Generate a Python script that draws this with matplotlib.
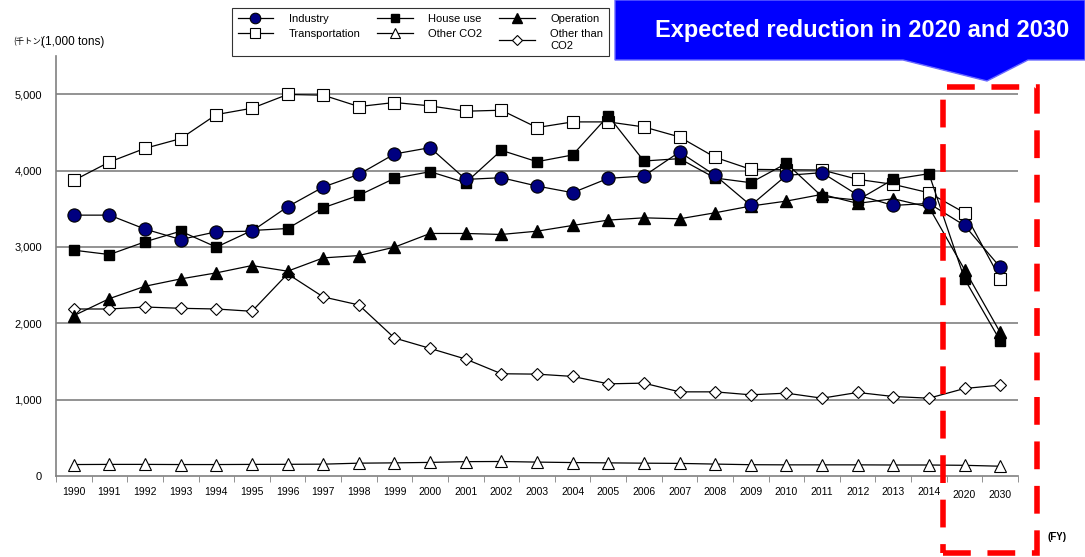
import matplotlib
matplotlib.use("Agg")
import matplotlib.pyplot as plt
from matplotlib.patches import Polygon, Rectangle
import numpy as np

plt.rcParams['font.family'] = ['Liberation Sans', 'Noto Sans CJK JP', 'DejaVu Sans']

years = ['1990', '1991', '1992', '1993', '1994', '1995', '1996', '1997', '1998',
         '1999', '2000', '2001', '2002', '2003', '2004', '2005', '2006', '2007',
         '2008', '2009', '2010', '2011', '2012', '2013', '2014', '2020', '2030']

industry = [3416, 3416, 3233, 3097, 3198, 3206, 3526, 3784, 3950, 4217,
            4300, 3884, 3906, 3797, 3710, 3898, 3928, 4243, 3937, 3543,
            3937, 3972, 3679, 3543, 3570, 3281, 2734]
house_use = [2957, 2900, 3067, 3206, 2997, 3215, 3241, 3513, 3675, 3898,
             3985, 3841, 4265, 4116, 4204, 4716, 4125, 4156, 3902, 3841,
             4094, 3660, 3613, 3885, 3959, 2581, 1772]
operation = [2100, 2323, 2485, 2581, 2660, 2756, 2682, 2856, 2887, 2997,
             3176, 3176, 3163, 3206, 3281, 3351, 3381, 3368, 3447, 3535,
             3600, 3688, 3570, 3631, 3521, 2703, 1881]
transportation = [3871, 4112, 4291, 4418, 4733, 4816, 4996, 4987, 4838, 4891,
                  4847, 4777, 4790, 4563, 4637, 4637, 4571, 4440, 4173, 4016,
                  4010, 4007, 3885, 3819, 3709, 3447, 2585]
other_co2 = [150, 152, 152, 150, 150, 152, 153, 155, 168, 172,
             178, 188, 190, 182, 176, 172, 168, 165, 156, 148,
             146, 146, 146, 144, 144, 140, 128]
other_than_co2 = [2187, 2187, 2213, 2196, 2187, 2157, 2647, 2345, 2240, 1807,
                  1671, 1531, 1339, 1334, 1304, 1207, 1216, 1102, 1102, 1063,
                  1085, 1019, 1094, 1041, 1019, 1146, 1190]

ytick_vals = [0, 1000, 2000, 3000, 4000, 5000]
ytick_labels = ['0', '1,000', '2,000', '3,000', '4,000', '5,000']

W, H = 1085, 557
fig = plt.figure(figsize=(W / 100, H / 100), dpi=100)
ax = fig.add_axes([56 / W, 1 - 476 / H, (1018 - 56) / W, (476 - 56) / H])

x = np.arange(len(years))
lw = 0.9
ax.plot(x, other_co2, color='black', lw=lw, marker='^', ms=9,
        mfc='white', mec='black', mew=0.8, label='Other CO2', zorder=3)
ax.plot(x, other_than_co2, color='black', lw=lw, marker='D', ms=6.5,
        mfc='white', mec='black', mew=0.8, label='Other than\nCO2', zorder=3)
ax.plot(x, transportation, color='black', lw=lw, marker='s', ms=9,
        mfc='white', mec='black', mew=0.8, label='Transportation', zorder=3)
ax.plot(x, operation, color='black', lw=lw, marker='^', ms=8.5,
        mfc='black', mec='black', label='Operation', zorder=4)
ax.plot(x, house_use, color='black', lw=lw, marker='s', ms=7,
        mfc='black', mec='black', label='House use', zorder=4)
ax.plot(x, industry, color='black', lw=lw, marker='o', ms=9.5,
        mfc='#000080', mec='black', mew=0.8, label='Industry', zorder=5)

ax.set_xlim(-0.5, len(years) - 0.5)
ax.set_ylim(0, 5500)
ax.set_yticks(ytick_vals)
ax.set_yticklabels(ytick_labels, fontsize=8)
ax.tick_params(axis='y', length=0, pad=10)
ax.set_xticks(x)
ax.set_xticklabels(years, fontsize=7.5)
ax.set_xticks(np.arange(len(years) + 1) - 0.5, minor=True)
ax.tick_params(axis='x', which='major', length=0, pad=8)
ax.tick_params(axis='x', which='minor', length=4, color='#808080', direction='out')
for lab in ax.get_xticklabels()[-2:]:
    lab.set_y(-0.008)
for yv in ytick_vals[1:]:
    ax.axhline(yv, color='#808080', lw=1.2, zorder=1)
for s in ['top', 'right']:
    ax.spines[s].set_visible(False)
ax.spines['left'].set_color('#808080')
ax.spines['bottom'].set_color('#808080')
ax.spines['left'].set_linewidth(1.2)
ax.spines['bottom'].set_linewidth(1.2)

# legend
h = {l.get_label(): l for l in ax.get_lines()}
order = ['Industry', 'Transportation', 'House use', 'Other CO2', 'Operation', 'Other than\nCO2']
leg = fig.legend([h[k] for k in order], order, ncol=3, loc='upper left',
                 bbox_to_anchor=(232 / W, 1 - 8 / H), borderaxespad=0,
                 fontsize=8, frameon=True, markerscale=0.8,
                 fancybox=False, edgecolor='black', handlelength=3.2,
                 columnspacing=1.5, handletextpad=1.4, labelspacing=0.5,
                 borderpad=0.5)
leg.get_frame().set_linewidth(0.8)

# unit label
fig.text(13 / W, 1 - 42 / H, '(千トン)', fontsize=6, va='center', ha='left',
         family=['Noto Sans CJK JP', 'DejaVu Sans'])
fig.text(41 / W, 1 - 42 / H, '(1,000 tons)', fontsize=8.5, va='center', ha='left')
fig.text(1047 / W, 1 - 537 / H, '(FY)', fontsize=7, fontweight='bold', va='center', ha='left')

# blue callout
pts = [(615, 0), (W, 0), (W, 60), (1028, 60), (987, 81), (903, 60), (615, 60)]
fig.patches.append(Polygon([(px / W, 1 - py / H) for px, py in pts], closed=True,
                           transform=fig.transFigure, facecolor='#0000FF',
                           edgecolor='#6a6aff', lw=1, zorder=10))
fig.text(862 / W, 1 - 30 / H, 'Expected reduction in 2020 and 2030', color='white',
         fontsize=17, fontweight='bold', ha='center', va='center', zorder=11,
         family=['Liberation Sans Narrow', 'Liberation Sans'])

# red dashed box
fig.patches.append(Rectangle((943 / W, 1 - 553 / H), (1037 - 943) / W, (553 - 87) / H,
                             transform=fig.transFigure, fill=False, edgecolor='#FF0000',
                             lw=4, linestyle=(0, (5, 3)), zorder=9))

fig.savefig('out.png', dpi=100)
